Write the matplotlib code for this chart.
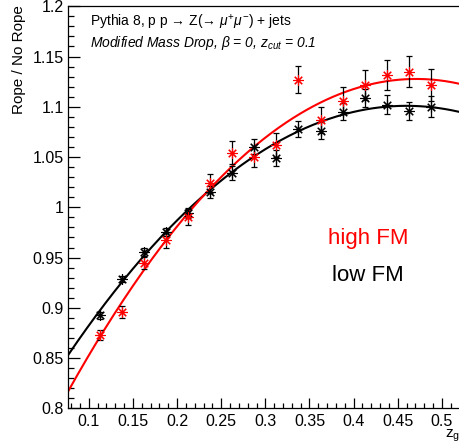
import numpy as np
import matplotlib
matplotlib.use("Agg")
import matplotlib.pyplot as plt
from matplotlib.ticker import MultipleLocator

plt.rcParams["font.family"] = ["Liberation Sans", "DejaVu Sans"]
plt.rcParams["mathtext.fontset"] = "custom"
plt.rcParams["mathtext.rm"] = "Liberation Sans"
plt.rcParams["mathtext.it"] = "Liberation Sans:italic"
plt.rcParams["mathtext.bf"] = "Liberation Sans:bold"

# bin centres in z_g
zg = [0.1125, 0.1375, 0.1625, 0.1875, 0.2125, 0.2375, 0.2625, 0.2875,
      0.3125, 0.3375, 0.3625, 0.3875, 0.4125, 0.4375, 0.4625, 0.4875]

# low FM (black)
low_y = [0.8927, 0.9286, 0.9558, 0.9750, 0.9947, 1.0156, 1.0345, 1.0604,
         1.0488, 1.0780, 1.0763, 1.0952, 1.1085, 1.1019, 1.0959, 1.1002]
low_err = [0.0035, 0.003, 0.004, 0.004, 0.005, 0.006, 0.007, 0.0077,
           0.008, 0.0078, 0.0088, 0.0083, 0.009, 0.0095, 0.0093, 0.0103]

# high FM (red)
high_y = [0.8728, 0.8960, 0.9450, 0.9670, 0.9907, 1.0239, 1.0544, 1.0498,
          1.0620, 1.1268, 1.0870, 1.1062, 1.1218, 1.1318, 1.1351, 1.1218]
high_err = [0.005, 0.006, 0.006, 0.007, 0.008, 0.0096, 0.0116, 0.010,
            0.0116, 0.0133, 0.013, 0.0133, 0.0146, 0.0146, 0.015, 0.016]

XMIN, XMAX = 0.0765, 0.525
YMIN, YMAX = 0.8, 1.2

fig = plt.figure(figsize=(4.59, 4.46), dpi=100)
ax = fig.add_axes([68 / 459, (446 - 408.3) / 446, 396 / 459, 402 / 446])

xfit = np.linspace(XMIN, XMAX, 300)
for y, err, col in [(low_y, low_err, "black"), (high_y, high_err, "red")]:
    # weighted 2nd order polynomial fit, like the ROOT pol2 fit
    coef = np.polyfit(zg, y, 2, w=1.0 / np.asarray(err))
    ax.plot(xfit, np.polyval(coef, xfit), color=col, lw=1.5, zorder=2)

for y, err, col in [(low_y, low_err, "black"), (high_y, high_err, "red")]:
    ax.errorbar(zg, y, yerr=err, fmt="none", ecolor="black", elinewidth=0.9,
                capsize=2.2, capthick=0.9, zorder=3)
    ax.plot(zg, y, ls="none", marker=(8, 2, 0), ms=7.5, mew=0.8,
            color=col, mec=col, zorder=4)

ax.set_xlim(XMIN, XMAX)
ax.set_ylim(YMIN, YMAX)
ax.xaxis.set_major_locator(MultipleLocator(0.05))
ax.xaxis.set_minor_locator(MultipleLocator(0.01))
ax.yaxis.set_major_locator(MultipleLocator(0.05))
ax.yaxis.set_minor_locator(MultipleLocator(0.01))
ax.xaxis.set_major_formatter(plt.FuncFormatter(lambda v, _: f"{v:g}"))
ax.yaxis.set_major_formatter(plt.FuncFormatter(lambda v, _: f"{v:g}"))

ax.tick_params(axis="both", which="both", direction="in", labelsize=11.5,
               top=False, right=False, width=0.9, color="black")
ax.tick_params(axis="y", which="major", length=8.4, pad=3.2)
ax.tick_params(axis="y", which="minor", length=4.1)
ax.tick_params(axis="x", which="major", length=7.2, pad=4.0)
ax.tick_params(axis="x", which="minor", length=3.6)
for s in ax.spines.values():
    s.set_linewidth(0.9)

fig.text(19 / 459, 1 - 5 / 446, "Rope / No Rope", rotation=90,
         ha="center", va="top", fontsize=11)
# the reference crops this label at the right edge; keep it just inside
fig.text(445 / 459, 1 - 438 / 446, r"$\mathrm{z_{g}}$", ha="left",
         va="baseline", fontsize=11)

ax.text(90 / 459, 1 - 27 / 446,
        "Pythia 8, p p \u2192 Z(\u2192 " + r"$\mu^{+}\mu^{-}$" + ") + jets",
        transform=fig.transFigure, ha="left", va="baseline", fontsize=10)
ax.text(90 / 459, 1 - 47 / 446,
        r"Modified Mass Drop, $\mathit{\beta}$ = 0, $\mathit{z_{cut}}$ = 0.1",
        transform=fig.transFigure, ha="left", va="baseline", fontsize=10,
        style="italic")

ax.text(368 / 459, 1 - 244 / 446, "high FM", color="red", fontsize=16,
        transform=fig.transFigure, ha="center", va="baseline")
ax.text(368 / 459, 1 - 280.7 / 446, "low FM", color="black", fontsize=16,
        transform=fig.transFigure, ha="center", va="baseline")

fig.savefig("out.png", dpi=100)
